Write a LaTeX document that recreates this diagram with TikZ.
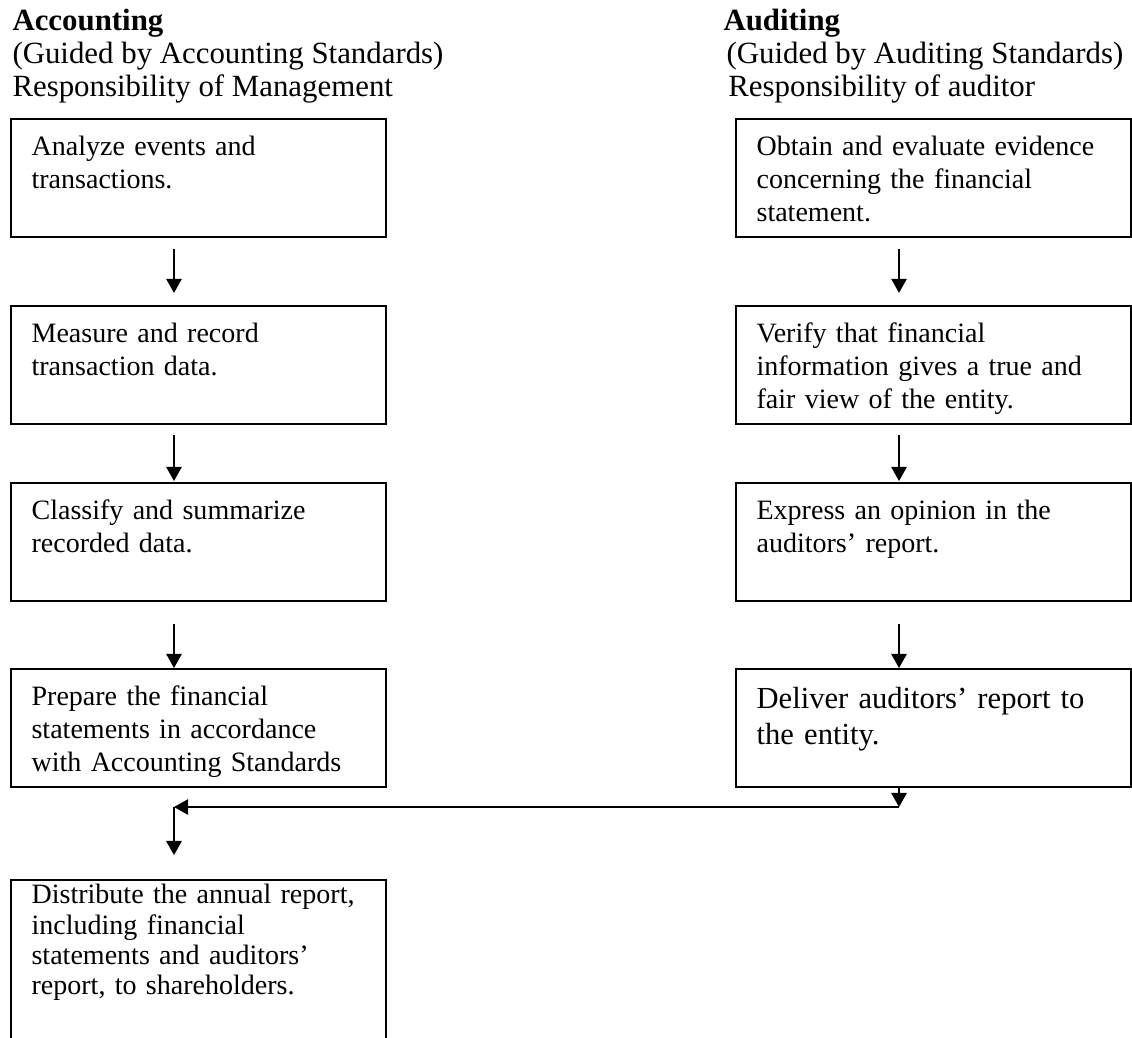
\documentclass[tikz,border=0pt]{standalone}
\usepackage{fontspec}
\setmainfont{Liberation Serif}
\usepackage{tikz}
\usetikzlibrary{arrows.meta}

\begin{document}
\begin{tikzpicture}[scale=0.3875,
  lbox/.style={draw, line width=0.8pt, anchor=north west, align=left, text width=129.9pt, inner xsep=8pt, inner ysep=5.3pt, text height=8.9pt, text depth=26.4pt, font=\fontsize{10.9}{12.8}\selectfont},
  rbox/.style={lbox, text width=137.7pt},
  head/.style={anchor=north west, align=left, inner sep=0pt, font=\fontsize{12}{12.84}\selectfont},
  arr/.style={-{Triangle[length=5.5pt,width=6pt]}, line width=0.65pt}]

\useasboundingbox (0bp,0bp) rectangle (1132bp,-1038bp);
\clip (0bp,0bp) rectangle (1132bp,-1038bp);

\node (Hacc) at (12bp,-7bp)[head] {\strut\textbf{Accounting}\\(Guided by Accounting Standards)\\Responsibility of Management};
\node (Haud) at (723bp,-7bp)[head] {\strut\textbf{Auditing}\\\hspace*{1.2pt}(Guided by Auditing Standards)\\\hspace*{1.9pt}Responsibility of auditor};

\node (A1) at (10bp,-118bp)[lbox] {Analyze events and\\transactions.};
\node (A2) at (10bp,-305bp)[lbox] {Measure and record\\transaction data.};
\node (A3) at (10bp,-482bp)[lbox] {Classify and summarize\\recorded data.};
\node (A4) at (10bp,-668bp)[lbox] {Prepare the financial\\statements in accordance\\with Accounting Standards};
\node (A5) at (10bp,-879bp)[lbox, inner ysep=1.3pt, text height=8pt, text depth=60pt, font=\fontsize{10.9}{11.7}\selectfont] {Distribute the annual report,\\including financial\\statements and auditors'\\report, to shareholders.};

\node (R1) at (735bp,-118bp)[rbox] {Obtain and evaluate evidence\\concerning the financial\\statement.};
\node (R2) at (735bp,-305bp)[rbox] {Verify that financial\\information gives a true and\\fair view of the entity.};
\node (R3) at (735bp,-482bp)[rbox] {Express an opinion in the\\auditors' report.};
\node (R4) at (735bp,-668bp)[rbox, text height=9.9pt, text depth=25.4pt, font=\fontsize{11.9}{14}\selectfont] {Deliver auditors' report to\\the entity.};

\coordinate (lcol) at (174bp,0bp);
\coordinate (rcol) at (899bp,0bp);
\coordinate (rjoin) at (899bp,-807bp);
\coordinate (ljoin) at (174bp,-807bp);

\draw[arr, shorten <=4.3pt, shorten >=4.7pt] (A1.south -| lcol) -- (A2.north -| lcol);
\draw[arr, shorten <=3.9pt, shorten >=0.4pt] (A2.south -| lcol) -- (A3.north -| lcol);
\draw[arr, shorten <=8.6pt] (A3.south -| lcol) -- (A4.north -| lcol);

\draw[arr, shorten <=4.3pt, shorten >=4.7pt] (R1.south -| rcol) -- (R2.north -| rcol);
\draw[arr, shorten <=3.9pt, shorten >=0.4pt] (R2.south -| rcol) -- (R3.north -| rcol);
\draw[arr, shorten <=8.6pt] (R3.south -| rcol) -- (R4.north -| rcol);

\draw[arr] (R4.south -| rjoin) -- (rjoin);
\draw[arr] (rjoin) -- (ljoin);
\draw[arr, shorten >=9.3pt] (ljoin) -- (A5.north -| ljoin);
\end{tikzpicture}
\end{document}
